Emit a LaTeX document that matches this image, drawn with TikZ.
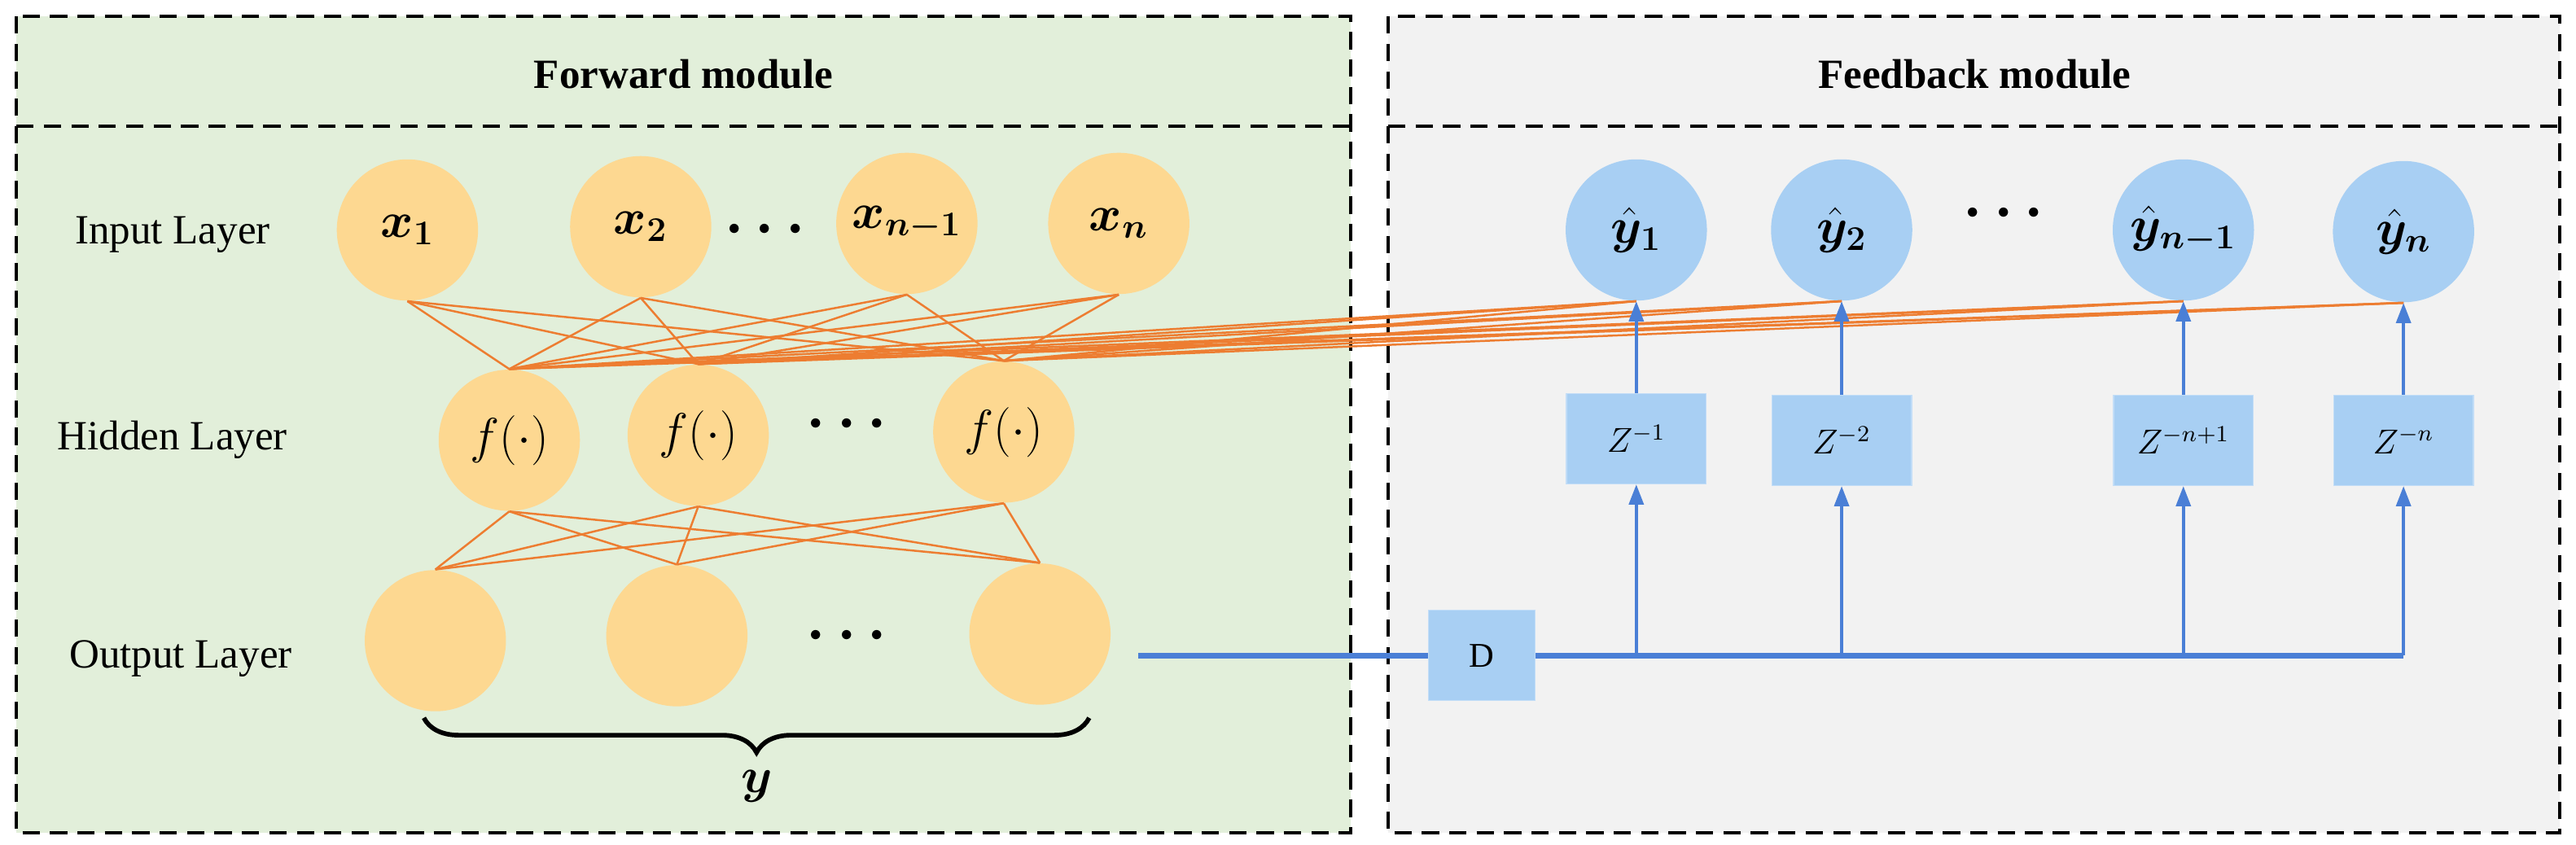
\documentclass[tikz,border=0pt]{standalone}
\usepackage{fontspec}
\setmainfont{Liberation Serif}
\usepackage{amsmath,amssymb,bm}
\usetikzlibrary{arrows.meta,decorations.pathreplacing}
\definecolor{fwdbg}{HTML}{E2EFDA}
\definecolor{fbbg}{HTML}{F2F2F2}
\definecolor{neur}{HTML}{FDD891}
\definecolor{wire}{HTML}{ED7D31}
\definecolor{bneur}{HTML}{A8CFF3}
\definecolor{bline}{HTML}{4A7FD6}
\begin{document}
\begin{tikzpicture}[x=0.02cm,y=-0.02cm,
  frame/.style={draw=black,line width=1.1pt,dash pattern=on 6pt off 3.5pt},
  neuron/.style={circle,fill=neur,minimum size=1.72cm,inner sep=0pt,font=\LARGE},
  yneuron/.style={circle,fill=bneur,minimum size=1.72cm,inner sep=0pt,font=\LARGE},
  delay/.style={rectangle,fill=bneur,draw=bneur!70,minimum width=1.7cm,minimum height=1.1cm,inner sep=0pt,font=\large},
  lab/.style={font=\Large},
  dots/.style={font=\huge},
  conn/.style={draw=wire,line width=0.7pt},
  fb/.style={draw=bline,line width=1.2pt,-{Triangle[length=7pt,width=5pt]}}]
\useasboundingbox (0,0) rectangle (1568,514);
% frames
\fill[fwdbg] (10,10) rectangle (822,507);
\fill[fbbg] (845,10) rectangle (1558,507);
\draw[frame] (10,10) rectangle (822,507);
\draw[frame] (10,77) -- (822,77);
\draw[frame] (845,10) rectangle (1558,507);
\draw[frame] (845,77) -- (1558,77);
\node[font=\Large\bfseries] (t1) at (416,45) {Forward module};
\node[font=\Large\bfseries] (t2) at (1202,45) {Feedback module};
% layer labels
\node[lab] (l1) at (105,143) {Input Layer};
\node[lab] (l2) at (105,268) {Hidden Layer};
\node[lab] (l3) at (110,401) {Output Layer};
% input layer
\node[neuron] (x1) at (248,140) {$\bm{x_1}$};
\node[neuron] (x2) at (390,138) {$\bm{x_2}$};
\node[neuron] (x3) at (552,136) {$\bm{x_{n-1}}$};
\node[neuron] (x4) at (681,136) {$\bm{x_n}$};
\node[dots] (d1) at (469,140) {$\bm{\cdots}$};
% hidden layer
\node[neuron] (h1) at (310,268) {$f(\cdot)$};
\node[neuron] (h2) at (425,265) {$f(\cdot)$};
\node[neuron] (h3) at (611,263) {$f(\cdot)$};
\node[dots] (d2) at (519,258) {$\bm{\cdots}$};
% output layer
\node[neuron] (o1) at (265,390) {};
\node[neuron] (o2) at (412,387) {};
\node[neuron] (o3) at (633,386) {};
\node[dots] (d3) at (519,387) {$\bm{\cdots}$};
\draw[line width=1.6pt,decorate,decoration={brace,mirror,amplitude=12pt}] (258,437) -- (663,437)
  node[midway,below=14pt,font=\LARGE] (y) {$\bm{y}$};
% feedback layer
\node[yneuron] (y1) at (996,140) {$\bm{\hat{y}_1}$};
\node[yneuron] (y2) at (1121,140) {$\bm{\hat{y}_2}$};
\node[yneuron] (y3) at (1329,140) {$\bm{\hat{y}_{n-1}}$};
\node[yneuron] (y4) at (1463,141) {$\bm{\hat{y}_n}$};
\node[dots] (d4) at (1223,130) {$\bm{\cdots}$};
\node[delay] (z1) at (996,267) {$Z^{-1}$};
\node[delay] (z2) at (1121,268) {$Z^{-2}$};
\node[delay] (z3) at (1329,268) {$Z^{-n+1}$};
\node[delay] (z4) at (1463,268) {$Z^{-n}$};
\node[delay,minimum width=1.3cm] (D) at (902,399) {D};
% orange connections
\foreach \a in {x1,x2,x3,x4}
  \foreach \b in {h1,h2,h3}
    \draw[conn] (\a.south) -- (\b.north);
\foreach \a in {h1,h2,h3}
  \foreach \b in {o1,o2,o3}
    \draw[conn] (\a.south) -- (\b.north);
\foreach \a in {h1,h2,h3}
  \foreach \b in {y1,y2,y3,y4}
    \draw[conn] (\a.north) -- (\b.south);
% blue feedback lines
\coordinate (ostart) at (693,399);
\coordinate (lineend) at (1463,399);
\draw[bline,line width=2pt] (ostart) -- (D.west);
\draw[bline,line width=2pt] (D.east) -- (lineend);
\foreach \z in {z1,z2,z3,z4}
  \draw[fb] (\z |- lineend) -- (\z.south);
\draw[fb] (z1.north) -- (y1.south);
\draw[fb] (z2.north) -- (y2.south);
\draw[fb] (z3.north) -- (y3.south);
\draw[fb] (z4.north) -- (y4.south);
\end{tikzpicture}
\end{document}
